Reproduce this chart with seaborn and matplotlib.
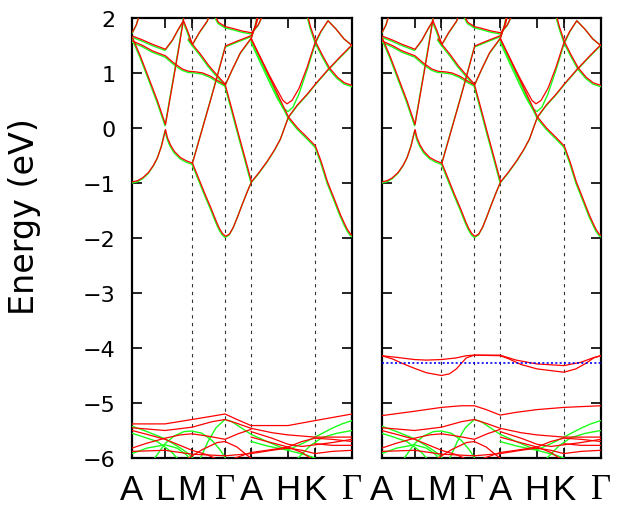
import matplotlib
matplotlib.use("Agg")
import matplotlib.pyplot as plt
import matplotlib.transforms as mtransforms
import pandas as pd
import seaborn as sns

sns.set_theme(style="ticks")
plt.rcParams["font.family"] = ["DejaVu Sans"]
plt.rcParams["text.color"] = "black"
plt.rcParams["axes.labelcolor"] = "black"
plt.rcParams["xtick.color"] = "black"
plt.rcParams["ytick.color"] = "black"

# ---- k-path A-L-M-Γ-A-H-K-Γ (path length, arbitrary units) ----
kpath_pos = [0, 33, 60, 93, 119, 156, 183, 220]
kpath_labels = ["A", "L", "M", "Γ", "A", "H", "K", "Γ"]
dashed_at = [60, 93, 119, 183]
e_ticks = [-6, -5, -4, -3, -2, -1, 0, 1, 2]
level_right = -4.27

# ---- conduction bands, (k, E) pairs, same in both panels ----
cb_low = [(0, -1.0), (5, -0.98), (10, -0.93), (16, -0.83), (21, -0.7), (25, -0.56),
          (29, -0.35), (33, -0.05), (35, -0.2), (38, -0.33), (42, -0.45), (48, -0.56),
          (54, -0.62), (60, -0.66), (66, -0.93), (72, -1.2), (79, -1.5), (84, -1.73),
          (87, -1.85), (90, -1.94), (93, -1.99), (97, -1.95), (101, -1.82), (105, -1.64),
          (110, -1.4), (115, -1.17), (119, -1.0), (127, -0.82), (135, -0.62),
          (142, -0.42), (148, -0.22), (156, 0.18), (165, 0.4), (175, 0.6), (183, 0.78),
          (195, 1.03), (208, 1.28), (220, 1.5)]
cb_l_cross = [(0, 1.62), (8, 1.28), (16, 0.9), (25, 0.47), (33, 0.04), (38, 0.56),
              (43, 1.08), (47, 1.5), (51, 1.95), (52, 2.1)]
cb_h_cross = [(119, 1.6), (128, 1.25), (138, 0.87), (147, 0.52), (156, 0.18), (165, -0.02),
              (175, -0.2), (183, -0.35), (189, -0.65), (195, -1.0), (202, -1.32),
              (208, -1.6), (212, -1.76), (215, -1.87), (218, -1.95), (220, -1.98)]
cb_l_peak = [(0, 1.65), (10, 1.58), (20, 1.5), (33, 1.41), (40, 1.58), (46, 1.78),
             (51, 1.93), (55, 1.75), (60, 1.5), (67, 1.72), (75, 1.93), (78, 2.1)]
cb_l_flat = [(0, 1.56), (10, 1.48), (20, 1.38), (33, 1.29), (42, 1.15), (50, 1.05),
             (56, 1.01), (63, 1.0), (70, 0.98), (78, 0.92), (86, 0.83), (93, 0.76)]
cb_m_gamma = [(56, 1.6), (60, 1.5), (68, 1.32), (76, 1.12), (84, 0.95), (93, 0.77),
              (100, 1.05), (108, 1.35), (119, 1.62), (123, 1.85), (126, 2.1)]
cb_m_steep = [(60, -0.66), (66, -0.28), (72, 0.1), (78, 0.48), (84, 0.87), (90, 1.27),
              (93, 1.47), (105, 1.56), (119, 1.66), (124, 1.88), (127, 2.1)]
cb_gamma_a = [(93, 0.75), (100, 0.28), (106, -0.13), (112, -0.53), (119, -1.0)]
cb_top_ga = [(80, 2.1), (86, 1.9), (93, 1.82), (100, 1.79), (110, 1.74), (119, 1.71),
             (126, 1.86), (132, 2.1)]
cb_top_a = [(0, 1.72), (4, 1.86), (8, 2.1)]
cb_k_left = [(174, 2.1), (178, 1.82), (183, 1.55), (190, 1.3), (197, 1.07), (205, 0.9),
             (212, 0.8), (220, 0.75)]
cb_h_valley_green = [(119, 1.56), (128, 1.2), (137, 0.85), (145, 0.55), (151, 0.36),
                     (156, 0.3), (161, 0.38), (167, 0.62), (175, 1.05), (183, 1.52),
                     (189, 1.75), (196, 1.95), (204, 1.8), (212, 1.62), (220, 1.5)]
cb_h_valley_red = [(119, 1.62), (128, 1.3), (137, 0.97), (145, 0.7), (151, 0.5),
                   (155, 0.44), (160, 0.5), (167, 0.72), (175, 1.1), (183, 1.55),
                   (189, 1.76), (196, 1.95), (204, 1.8), (212, 1.62), (220, 1.5)]

# ---- d bands near -5 .. -6 eV ----
d_red_1 = [(0, -5.45), (33, -5.5), (60, -5.44), (80, -5.34), (93, -5.3), (105, -5.37),
           (119, -5.46), (140, -5.54), (156, -5.58), (183, -5.62), (220, -5.62)]
d_red_2 = [(0, -5.5), (15, -5.57), (33, -5.66), (48, -5.77), (60, -5.86), (75, -5.94),
           (85, -6.02)]
d_red_3 = [(0, -5.82), (15, -5.73), (33, -5.64), (48, -5.58), (60, -5.56), (75, -5.6),
           (93, -5.66), (106, -5.56), (119, -5.48)]
d_red_4 = [(0, -5.88), (33, -5.86), (60, -5.93), (93, -5.96), (119, -5.92), (140, -5.86),
           (156, -5.82), (170, -5.86), (183, -5.92), (200, -5.88), (220, -5.86)]
d_red_5 = [(100, -6.02), (119, -5.9), (135, -5.86), (156, -5.8), (170, -5.7),
           (183, -5.64), (200, -5.66), (220, -5.7)]
d_red_6 = [(119, -5.62), (135, -5.7), (156, -5.8), (170, -5.9), (180, -6.02)]
d_red_7 = [(183, -5.74), (200, -5.77), (220, -5.77)]
d_red_8 = [(55, -6.02), (70, -5.85), (85, -5.72), (93, -5.7), (105, -5.8), (115, -5.95),
           (119, -6.0)]
d_red_9 = [(119, -5.52), (140, -5.64), (156, -5.75), (170, -5.79), (183, -5.76),
           (200, -5.72), (220, -5.66)]
d_green_1 = [(0, -5.42), (15, -5.52), (33, -5.65), (45, -5.78), (55, -5.9), (62, -6.02)]
d_green_2 = [(22, -6.02), (33, -5.74), (42, -5.6), (52, -5.52), (60, -5.51), (70, -5.55),
             (80, -5.68), (88, -5.85), (94, -6.02)]
d_green_3 = [(68, -6.02), (76, -5.7), (84, -5.45), (93, -5.3), (100, -5.34), (110, -5.46),
             (119, -5.57), (135, -5.7), (148, -5.8), (156, -5.85)]
d_green_4 = [(156, -5.85), (170, -5.74), (183, -5.62), (200, -5.46), (210, -5.38),
             (220, -5.32)]
d_green_5 = [(165, -6.02), (178, -5.78), (190, -5.63), (205, -5.55), (220, -5.5)]
d_green_6 = [(0, -5.92), (15, -5.82), (33, -5.76), (45, -5.82), (55, -5.95), (58, -6.02)]
d_green_7 = [(119, -5.7), (135, -5.78), (156, -5.86), (175, -5.95), (183, -6.0)]
d_green_8 = [(0, -5.55), (12, -5.62), (25, -5.7), (33, -5.8), (40, -5.9), (46, -6.02)]

# top red d band differs between the two panels
d_top_left = [(0, -5.38), (33, -5.38), (60, -5.3), (80, -5.24), (93, -5.2), (105, -5.3),
              (119, -5.41), (156, -5.41), (183, -5.32), (220, -5.2)]
d_top_right = [(0, -5.23), (33, -5.15), (60, -5.08), (80, -5.05), (93, -5.05),
               (105, -5.12), (119, -5.22), (135, -5.17), (156, -5.12), (183, -5.08),
               (220, -5.05)]
# extra states around -4.2 eV (right panel only)
imp_upper = [(0, -4.14), (15, -4.17), (33, -4.21), (45, -4.22), (60, -4.21), (75, -4.18),
             (85, -4.14), (93, -4.13), (119, -4.13), (135, -4.22), (156, -4.29),
             (183, -4.32), (200, -4.26), (212, -4.18), (220, -4.14)]
imp_lower = [(0, -4.14), (11, -4.2), (22, -4.29), (33, -4.37), (45, -4.45), (60, -4.5),
             (68, -4.47), (75, -4.38), (80, -4.28), (85, -4.18), (93, -4.13), (119, -4.14),
             (128, -4.2), (140, -4.3), (156, -4.38), (183, -4.44), (195, -4.38),
             (205, -4.28), (213, -4.18), (220, -4.14)]

cb_both = [cb_low, cb_l_cross, cb_h_cross, cb_l_peak, cb_l_flat, cb_m_gamma,
           cb_m_steep, cb_gamma_a, cb_top_ga, cb_top_a, cb_k_left]
d_red = [d_red_1, d_red_2, d_red_3, d_red_4, d_red_5, d_red_6, d_red_7, d_red_8, d_red_9]
d_green = [d_green_1, d_green_2, d_green_3, d_green_4, d_green_5, d_green_6, d_green_7,
           d_green_8]

GREEN = "#1aff1a"
RED = "#ff0000"


def to_frame(bands):
    rows = []
    for i, band in enumerate(bands):
        for k, e in band:
            rows.append((i, k, e))
    return pd.DataFrame(rows, columns=["band", "k", "E"])


def draw_bands(ax, bands, color, lw=1.0, shift=0.0):
    n = len(ax.lines)
    sns.lineplot(data=to_frame(bands), x="k", y="E", units="band", estimator=None,
                 sort=False, color=color, lw=lw, ax=ax, legend=False, zorder=3)
    if shift:
        tr = mtransforms.offset_copy(ax.transData, fig=ax.figure, x=0.5, y=shift,
                                     units="dots")
        for ln in ax.lines[n:]:
            ln.set_transform(tr)


fig = plt.figure(figsize=(6.2, 5.1), dpi=100)
ax_l = fig.add_axes([132 / 620, 0.1, 220 / 620, 440 / 510])
ax_r = fig.add_axes([381.7 / 620, 0.1, 219 / 620, 440 / 510])

for ax, right in [(ax_l, False), (ax_r, True)]:
    for x in dashed_at:
        ax.axvline(x, color="black", lw=0.8, dashes=(3, 4), alpha=0.8, zorder=1)

    draw_bands(ax, cb_both + [cb_h_valley_green] + d_green, GREEN)
    draw_bands(ax, cb_both, RED, lw=0.9, shift=1.2)
    draw_bands(ax, [cb_h_valley_red] + d_red, RED, lw=0.9)
    if right:
        draw_bands(ax, [d_top_right, imp_upper, imp_lower], RED, lw=0.9)
        ax.axhline(level_right, color="#0000ff", lw=1.2, ls=(0, (1.2, 1.4)), zorder=4)
    else:
        draw_bands(ax, [d_top_left], RED, lw=0.9)

    ax.set_xlim(0, 220)
    ax.set_ylim(-6, 2)
    ax.set_xticks(kpath_pos)
    ax.set_xticklabels(kpath_labels)
    ax.set_yticks(e_ticks)
    ax.set_xlabel("")
    ax.set_ylabel("")
    ax.tick_params(axis="both", direction="in", length=7, width=1.2, color="black",
                   labelcolor="black", top=True, right=True)
    ax.tick_params(axis="x", pad=11, labelsize=25)
    ax.tick_params(axis="y", pad=12, labelsize=16, labelleft=not right)
    for lbl in ax.get_xticklabels():
        if lbl.get_text() == "Γ":
            lbl.set_fontfamily(["Liberation Serif"])
        else:
            lbl.set_fontfamily(["Liberation Sans"])
    for sp in ax.spines.values():
        sp.set_visible(True)
        sp.set_linewidth(1.6)
        sp.set_color("black")
    ax.set_facecolor("white")
    ax.grid(False)

ax_l.set_ylabel("Energy (eV)", fontsize=24, color="black")
ax_l.yaxis.set_label_coords(-0.415, 0.55)

fig.savefig("out.png", dpi=100, facecolor="white")
